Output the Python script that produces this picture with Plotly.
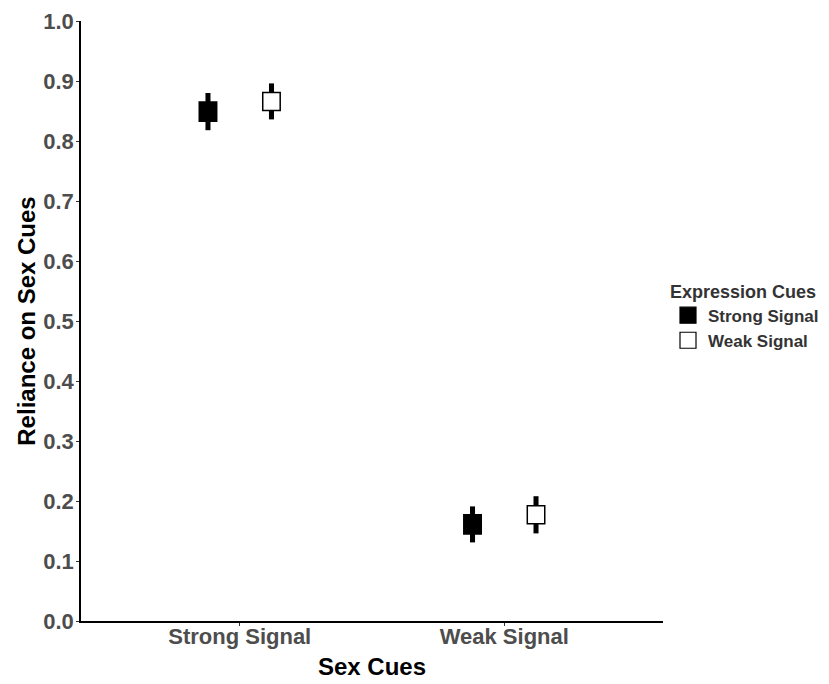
import plotly.graph_objects as go

# Data
sex_cues = ["Strong Signal", "Weak Signal"]
expr_cues = ["Strong Signal", "Weak Signal"]
means = {"Strong Signal": [0.849, 0.161], "Weak Signal": [0.866, 0.177]}
se = {"Strong Signal": [0.016, 0.016], "Weak Signal": [0.015, 0.015]}
ci = {"Strong Signal": [0.031, 0.030], "Weak Signal": [0.030, 0.031]}
fills = {"Strong Signal": "black", "Weak Signal": "white"}
dodge = {"Strong Signal": -0.12, "Weak Signal": 0.12}

xpos = [1, 2]
fig = go.Figure()

font_family = "Liberation Sans, Arial, sans-serif"

# whiskers
for e in expr_cues:
    xs = [x + dodge[e] for x in xpos]
    lo = [m - c for m, c in zip(means[e], ci[e])]
    hgt = [2 * c for c in ci[e]]
    fig.add_trace(go.Bar(x=xs, y=hgt, base=lo, width=0.019,
                         marker=dict(color="black", line=dict(width=0)),
                         showlegend=False, hoverinfo="skip"))
# boxes
for e in expr_cues:
    xs = [x + dodge[e] for x in xpos]
    lo = [m - s for m, s in zip(means[e], se[e])]
    hgt = [2 * s for s in se[e]]
    fig.add_trace(go.Bar(x=xs, y=hgt, base=lo, width=0.066, name=e, showlegend=False,
                         marker=dict(color=fills[e], line=dict(color="black", width=1.5))))
# legend keys
for e in expr_cues:
    fig.add_trace(go.Scatter(x=[None], y=[None], mode="markers", name=e,
                             marker=dict(symbol="square", size=16, color=fills[e],
                                         line=dict(color="black", width=1.2))))

fig.update_layout(
    width=829, height=676,
    plot_bgcolor="white", paper_bgcolor="white",
    barmode="overlay",
    margin=dict(l=73, r=174, t=13, b=63, autoexpand=False),
    font=dict(family=font_family),
    xaxis=dict(range=[0.4, 2.6], tickvals=xpos, ticktext=sex_cues, automargin=False,
               showgrid=False, zeroline=False, showline=True, linecolor="black", linewidth=1.5,
               ticks="outside", ticklen=3, tickcolor="#333333", ticklabelstandoff=-8,
               ticklabeloverflow="allow",
               tickfont=dict(size=22, color="#4d4d4d", weight="bold"),
               title=dict(text="Sex Cues", font=dict(size=24, color="black", weight="bold"), standoff=10)),
    yaxis=dict(range=[0, 1.0], tickvals=[i / 10 for i in range(11)],
               ticktext=[f"{i/10:.1f}" for i in range(11)], automargin=False,
               showgrid=False, zeroline=False, showline=True, linecolor="black", linewidth=1.5,
               ticks="outside", ticklen=3, tickcolor="#333333", ticklabelstandoff=-2,
               ticklabeloverflow="allow",
               tickfont=dict(size=22, color="#4d4d4d", weight="bold"),
               title=dict(text="Reliance on Sex Cues", font=dict(size=24, color="black", weight="bold"), standoff=1)),
    legend=dict(title=dict(text="Expression Cues", font=dict(size=18, color="#333333", weight="bold")),
                x=1.0086, y=0.578, xanchor="left", yanchor="top", tracegroupgap=0,
                font=dict(size=17, color="#333333", weight="bold"), traceorder="normal"),
)

fig.write_html("out.html")
